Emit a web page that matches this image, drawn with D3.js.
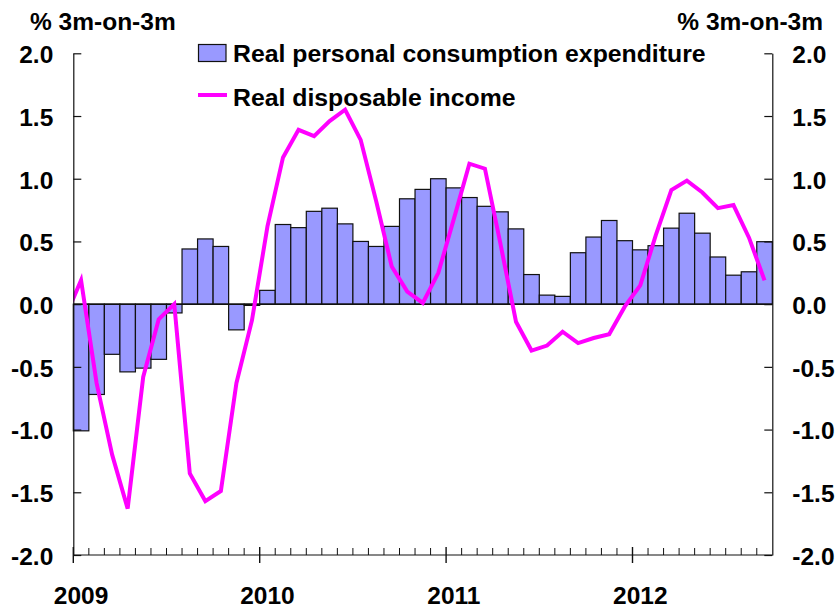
<!DOCTYPE html>
<html>
<head>
<meta charset="utf-8">
<script src="https://cdn.jsdelivr.net/npm/d3@7"></script>
<style>
  body { margin: 0; background: #fff; }
  svg text { font-family: "Liberation Sans", Arial, sans-serif; font-weight: bold; }
</style>
</head>
<body>
<svg id="chart" width="838" height="612"></svg>
<script>
// months Dec 2008 .. Sep 2012 (Dec 2008 only feeds the start of the line)
const months = d3.timeMonths(new Date(2008, 11, 1), new Date(2012, 9, 1));

// real personal consumption expenditure, % 3m-on-3m (Jan 2009 .. Sep 2012)
const pce = [null,
  -1.01, -0.72, -0.40, -0.54, -0.51, -0.44, -0.07, 0.44, 0.52, 0.46, -0.205, -0.01,
  0.11, 0.635, 0.61, 0.74, 0.765, 0.64, 0.50, 0.46, 0.62, 0.84, 0.915, 1.00,
  0.927, 0.85, 0.78, 0.736, 0.60, 0.236, 0.072, 0.062, 0.41, 0.535, 0.667, 0.506,
  0.433, 0.466, 0.606, 0.725, 0.566, 0.376, 0.231, 0.258, 0.498];

// real disposable income, % 3m-on-3m (Dec 2008 .. Sep 2012)
const rdi = [-0.10,
  0.19, -0.63, -1.20, -1.63, -0.58, -0.12, 0.00, -1.35, -1.57, -1.49, -0.63, -0.13,
  0.62, 1.17, 1.39, 1.34, 1.46, 1.55, 1.31, 0.82, 0.30, 0.10, 0.01, 0.25,
  0.68, 1.12, 1.08, 0.48, -0.14, -0.37, -0.33, -0.22, -0.31, -0.27, -0.24, -0.02,
  0.15, 0.55, 0.91, 0.985, 0.89, 0.765, 0.79, 0.53, 0.19];

const yTicks = [-2, -1.5, -1, -0.5, 0, 0.5, 1, 1.5, 2];
const unitLabel = "% 3m-on-3m";
const seriesNames = ["Real personal consumption expenditure", "Real disposable income"];

const svg = d3.select("#chart");
const plotLeft = 73.3, plotRight = 772.3, plotTop = 53.3, plotBottom = 555;
const step = (plotRight - plotLeft) / 45;

const x = d3.scaleBand()
    .domain(months)
    .range([plotLeft - step, plotRight])
    .padding(0);

const y = d3.scaleLinear().domain([-2, 2]).range([plotBottom, plotTop]);

svg.append("defs").append("clipPath").attr("id", "plot")
  .append("rect")
    .attr("x", plotLeft).attr("y", 0)
    .attr("width", plotRight - plotLeft).attr("height", 612);

// bars
svg.append("g").selectAll("rect")
  .data(months.map((m, i) => ({ m: m, v: pce[i] })).filter(d => d.v !== null))
  .enter().append("rect")
    .attr("x", d => x(d.m))
    .attr("width", x.bandwidth())
    .attr("y", d => y(Math.max(0, d.v)))
    .attr("height", d => Math.abs(y(d.v) - y(0)))
    .attr("fill", "#9999ff")
    .attr("stroke", "#111")
    .attr("stroke-width", 1.2);

// zero line
svg.append("line")
    .attr("x1", plotLeft).attr("x2", plotRight)
    .attr("y1", y(0)).attr("y2", y(0))
    .attr("stroke", "#111").attr("stroke-width", 1.5);

// income line
const line = d3.line()
    .x((d, i) => x(months[i]) + x.bandwidth() / 2)
    .y(d => y(d));

svg.append("path")
    .datum(rdi)
    .attr("clip-path", "url(#plot)")
    .attr("d", line)
    .attr("fill", "none")
    .attr("stroke", "#ff00ff")
    .attr("stroke-width", 4);

// y axes
const fmt = d => d.toFixed(1);

const yLeft = svg.append("g")
    .attr("transform", `translate(${plotLeft},0)`)
    .call(d3.axisLeft(y).tickValues(yTicks).tickFormat(fmt)
      .tickSizeInner(-8).tickSizeOuter(0).tickPadding(20));

const yRight = svg.append("g")
    .attr("transform", `translate(${plotRight},0)`)
    .call(d3.axisRight(y).tickValues(yTicks).tickFormat(fmt)
      .tickSizeInner(-8).tickSizeOuter(0).tickPadding(20));

[yLeft, yRight].forEach(g => {
  g.selectAll("text").attr("font-size", 24.5).attr("fill", "#000")
    .attr("dy", "0.38em")
    .style("font-family", "'Liberation Sans', Arial, sans-serif")
    .style("font-weight", "bold");
  g.selectAll("line, path").attr("stroke", "#111").attr("stroke-width", 1.2);
});

// bottom axis
const xAxis = svg.append("g");
xAxis.append("line")
    .attr("x1", plotLeft).attr("x2", plotRight)
    .attr("y1", plotBottom).attr("y2", plotBottom)
    .attr("stroke", "#111").attr("stroke-width", 1.2);

const inPlot = months.filter(m => x(m) >= plotLeft - 0.1 && x(m) < plotRight - 1);

xAxis.selectAll(".tick")
  .data(inPlot)
  .enter().append("line")
    .attr("x1", d => x(d)).attr("x2", d => x(d))
    .attr("y1", d => d.getMonth() === 0 ? plotBottom - 8 : plotBottom - 7)
    .attr("y2", d => d.getMonth() === 0 ? plotBottom + 8 : plotBottom)
    .attr("stroke", "#111")
    .attr("stroke-width", d => d.getMonth() === 0 ? 1.4 : 1);

xAxis.selectAll("text")
  .data(inPlot.filter(m => m.getMonth() === 0))
  .enter().append("text")
    .attr("x", d => x(d) + x.bandwidth() / 2)
    .attr("y", 604)
    .attr("text-anchor", "middle")
    .attr("font-size", 24.5)
    .text(d => d.getFullYear());

// unit labels
svg.append("text").attr("x", 30).attr("y", 30).attr("font-size", 24.5).text(unitLabel);
svg.append("text").attr("x", 823).attr("y", 30).attr("font-size", 24.5)
    .attr("text-anchor", "end").text(unitLabel);

// legend
const legend = svg.append("g");
legend.append("rect")
    .attr("x", 198.5).attr("y", 44.5).attr("width", 27.5).attr("height", 17)
    .attr("fill", "#9999ff").attr("stroke", "#111").attr("stroke-width", 1.2);
legend.append("line")
    .attr("x1", 198).attr("x2", 227).attr("y1", 95).attr("y2", 95)
    .attr("stroke", "#ff00ff").attr("stroke-width", 4);
legend.selectAll("text")
  .data(seriesNames)
  .enter().append("text")
    .attr("x", 233)
    .attr("y", (d, i) => i === 0 ? 62 : 106)
    .attr("font-size", 24.8)
    .text(d => d);
</script>
</body>
</html>
